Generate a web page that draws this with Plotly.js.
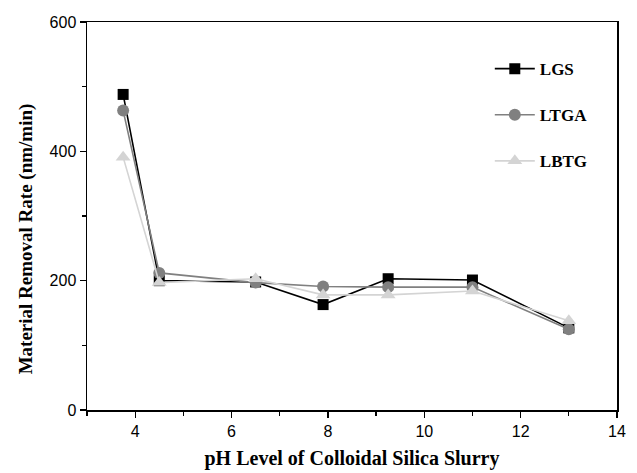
<!DOCTYPE html>
<html>
<head>
<meta charset="utf-8">
<script src="https://cdn.plot.ly/plotly-3.0.1.min.js"></script>
<style>html,body{margin:0;padding:0;background:#fff;}</style>
</head>
<body>
<div id="chart" style="width:637px;height:473px;"></div>
<script>
var pH = [3.75, 4.5, 6.5, 7.9, 9.25, 11, 13];
var LGS = [488, 200, 198, 163, 203, 201, 127];
var LTGA = [463, 212, 197, 191, 190, 190, 125];
var LBTG = [391, 197, 203, 178, 178, 184, 138];
var seriesNames = ['LGS', 'LTGA', 'LBTG'];
var xTitle = 'pH Level of Colloidal Silica Slurry';
var yTitle = 'Material Removal Rate (nm/min)';

var serif = 'Liberation Serif, Times New Roman, serif';
var sans = 'Liberation Sans, Arial, sans-serif';

var traces = [
  {x: pH, y: LGS, name: seriesNames[0], legendgroup: 'a', mode: 'lines+markers',
   line: {color: '#000000', width: 1.6},
   marker: {symbol: 'square', size: 11, color: '#000000'}},
  {x: pH, y: LTGA, name: seriesNames[1], legendgroup: 'b', mode: 'lines+markers',
   line: {color: '#808080', width: 1.6},
   marker: {symbol: 'circle', size: 12, color: '#808080'}},
  {x: pH, y: LBTG, name: seriesNames[2], legendgroup: 'c', mode: 'lines+markers',
   line: {color: '#d4d4d4', width: 1.6},
   marker: {symbol: 'triangle-up', size: 13, color: '#d4d4d4'}}
];

var layout = {
  width: 637, height: 473,
  margin: {l: 87, r: 20, t: 22, b: 63},
  paper_bgcolor: '#ffffff', plot_bgcolor: '#ffffff',
  showlegend: true,
  legend: {x: 0.76, y: 0.925, xanchor: 'left', yanchor: 'top',
           font: {family: serif, size: 17, color: '#000', weight: 'bold'},
           traceorder: 'grouped', tracegroupgap: 21, itemwidth: 40, bgcolor: 'rgba(0,0,0,0)'},
  xaxis: {
    range: [3, 14], tick0: 4, dtick: 2, ticks: 'outside', ticklen: 6, tickwidth: 1.2,
    tickcolor: '#000', showline: true, linecolor: '#000', linewidth: 1.5, mirror: true,
    showgrid: false, zeroline: false,
    minor: {dtick: 1, ticks: 'outside', ticklen: 4, tickcolor: '#000', showgrid: false},
    tickfont: {family: sans, size: 16, color: '#000'},
    title: {text: xTitle, standoff: 12,
            font: {family: serif, size: 20, color: '#000', weight: 'bold'}}
  },
  yaxis: {
    range: [0, 600], dtick: 200, ticks: 'outside', ticklen: 6, tickwidth: 1.2,
    tickcolor: '#000', showline: true, linecolor: '#000', linewidth: 1.5, mirror: true,
    showgrid: false, zeroline: false,
    minor: {dtick: 100, ticks: 'outside', ticklen: 4, tickcolor: '#000', showgrid: false},
    tickfont: {family: sans, size: 16, color: '#000'},
    title: {text: ''}
  },
  annotations: [{
    text: yTitle, textangle: -90, xref: 'paper', yref: 'paper',
    x: -0.115, y: 0.44, xanchor: 'center', yanchor: 'middle', showarrow: false,
    font: {family: serif, size: 19, color: '#000', weight: 'bold'}
  }]
};

Plotly.newPlot('chart', traces, layout, {displayModeBar: false, staticPlot: true});
</script>
</body>
</html>
